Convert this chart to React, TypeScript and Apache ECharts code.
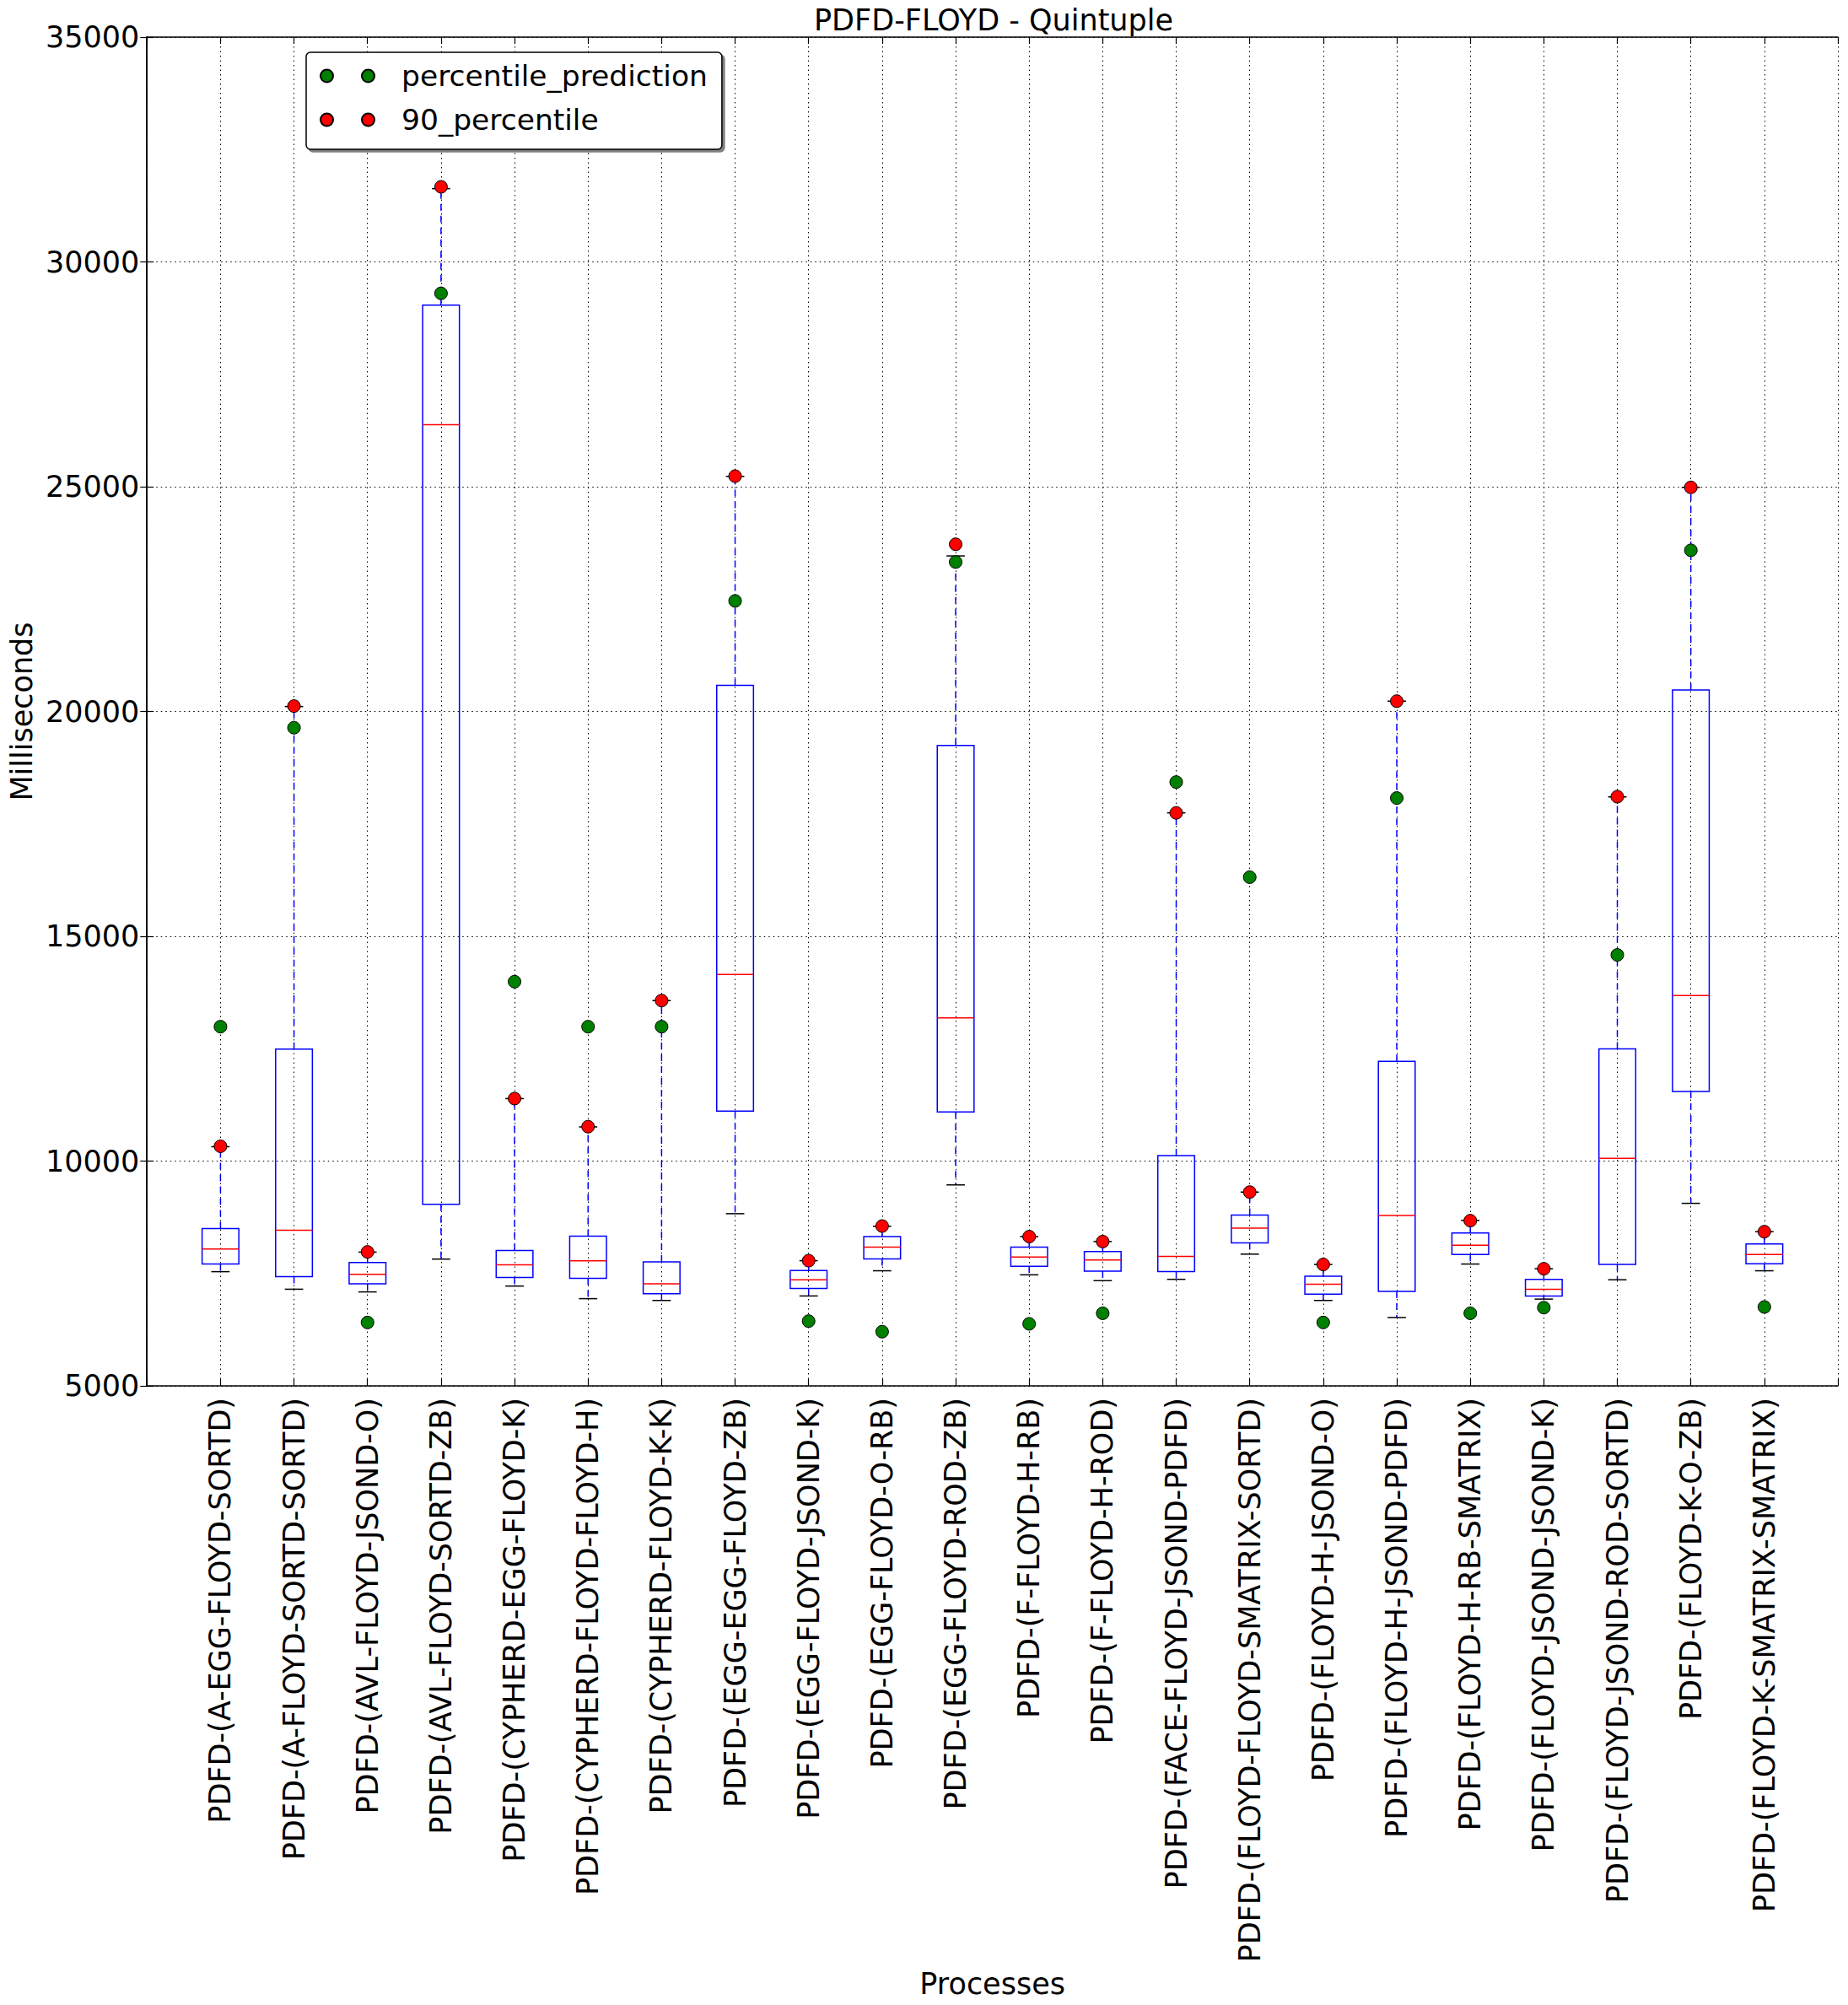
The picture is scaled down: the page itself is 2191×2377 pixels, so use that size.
import React, { useEffect, useRef } from "react";
import * as echarts from "echarts";

const categories = [
  "PDFD-(A-EGG-FLOYD-SORTD)",
  "PDFD-(A-FLOYD-SORTD-SORTD)",
  "PDFD-(AVL-FLOYD-JSOND-O)",
  "PDFD-(AVL-FLOYD-SORTD-ZB)",
  "PDFD-(CYPHERD-EGG-FLOYD-K)",
  "PDFD-(CYPHERD-FLOYD-FLOYD-H)",
  "PDFD-(CYPHERD-FLOYD-K-K)",
  "PDFD-(EGG-EGG-FLOYD-ZB)",
  "PDFD-(EGG-FLOYD-JSOND-K)",
  "PDFD-(EGG-FLOYD-O-RB)",
  "PDFD-(EGG-FLOYD-ROD-ZB)",
  "PDFD-(F-FLOYD-H-RB)",
  "PDFD-(F-FLOYD-H-ROD)",
  "PDFD-(FACE-FLOYD-JSOND-PDFD)",
  "PDFD-(FLOYD-FLOYD-SMATRIX-SORTD)",
  "PDFD-(FLOYD-H-JSOND-O)",
  "PDFD-(FLOYD-H-JSOND-PDFD)",
  "PDFD-(FLOYD-H-RB-SMATRIX)",
  "PDFD-(FLOYD-JSOND-JSOND-K)",
  "PDFD-(FLOYD-JSOND-ROD-SORTD)",
  "PDFD-(FLOYD-K-O-ZB)",
  "PDFD-(FLOYD-K-SMATRIX-SMATRIX)",
];

const whiskerLow = [7540, 7150, 7090, 7820, 7220, 6940, 6900, 8830, 7000, 7560, 9470, 7470, 7340, 7370, 7930, 6900, 6520, 7710, 6930, 7360, 9060, 7560];
const quartile1 = [7710, 7430, 7270, 9040, 7410, 7390, 7050, 11110, 7165, 7825, 11095, 7660, 7550, 7540, 8180, 7040, 7100, 7920, 7000, 7700, 11550, 7715];
const medians = [8045, 8460, 7480, 26380, 7690, 7780, 7270, 14150, 7360, 8085, 13185, 7865, 7800, 7880, 8510, 7260, 8790, 8130, 7150, 10060, 13680, 7920];
const quartile3 = [8500, 12490, 7745, 29040, 8010, 8330, 7760, 20580, 7565, 8320, 19245, 8085, 7990, 10120, 8800, 7440, 12220, 8400, 7370, 12495, 20480, 8155];
const whiskerHigh = [10320, 20110, 7975, 31630, 11390, 10760, 13570, 25230, 7785, 8550, 23460, 8320, 8210, 17745, 9310, 7700, 20230, 8680, 7605, 18100, 24985, 8430];
const percentile90 = [10330, 20120, 7980, 31670, 11390, 10765, 13570, 25235, 7785, 8555, 23720, 8320, 8210, 17745, 9310, 7700, 20230, 8675, 7605, 18105, 24985, 8430];
const percentilePrediction = [12990, 19640, 6410, 29300, 13990, 12990, 12990, 22460, 6440, 6205, 23325, 6380, 6615, 18430, 16315, 6410, 18075, 6615, 6740, 14585, 23585, 6755];

const yTicks = [5000, 10000, 15000, 20000, 25000, 30000, 35000];

const FONT = "DejaVu Sans";
const FS = 35;

const twoDots =
  "path://M0,7.5 A7.5,7.5 0 1,0 15,7.5 A7.5,7.5 0 1,0 0,7.5 Z M49,7.5 A7.5,7.5 0 1,0 64,7.5 A7.5,7.5 0 1,0 49,7.5 Z";

export default function App() {
  const ref = useRef<HTMLDivElement>(null);

  useEffect(() => {
    document.body.style.margin = "0";
    const chart = echarts.init(ref.current!, null, { renderer: "svg" });
    const positions = categories.map((_, i) => i + 1);
    const boxData = positions.map((x, i) => [x, whiskerLow[i], quartile1[i], medians[i], quartile3[i], whiskerHigh[i]]);
    const greenData = positions.map((x, i) => [x, percentilePrediction[i]]);
    const redData = positions.map((x, i) => [x, percentile90[i]]);

    const gridLine = { show: true, lineStyle: { color: "#000", width: 1, type: [1.5, 4] as any } };
    const tickInside = { show: true, inside: true, length: 8, lineStyle: { color: "#000", width: 1.2 } };
    const axisLine = { show: true, lineStyle: { color: "#000", width: 1.5 } };
    const textBase = { fontFamily: FONT, fontSize: FS, color: "#000" };

    const option: any = {
      animation: false,
      backgroundColor: "#fff",
      title: {
        text: "PDFD-FLOYD - Quintuple",
        left: 1173,
        top: 1,
        textAlign: "center",
        textStyle: { ...textBase, fontWeight: "normal" },
      },
      legend: {
        data: ["percentile_prediction", "90_percentile"],
        orient: "vertical",
        left: 363,
        top: 62,
        padding: [8, 17, 15, 16],
        itemGap: 12,
        itemWidth: 64,
        itemHeight: 15,
        icon: twoDots,
        backgroundColor: "#fff",
        borderColor: "#000",
        borderWidth: 1.5,
        borderRadius: 5,
        shadowColor: "rgba(0,0,0,0.5)",
        shadowOffsetX: 3,
        shadowOffsetY: 3,
        shadowBlur: 0,
        textStyle: { ...textBase, fontSize: 34.5, lineHeight: 40, padding: [0, 0, 0, 27] },
      },
      grid: { left: 167, top: 44, right: 12, bottom: 734 },
      xAxis: [
        {
          type: "value",
          min: 0,
          max: 23,
          interval: 1,
          axisLine,
          axisTick: tickInside,
          splitLine: gridLine,
          axisLabel: {
            ...textBase,
            rotate: 90,
            margin: 14,
            formatter: (v: number) => categories[v - 1] ?? "",
          },
          name: "Processes",
          nameLocation: "middle",
          nameGap: 689,
          nameTextStyle: textBase,
        },
        {
          type: "value",
          position: "top",
          min: 0,
          max: 23,
          interval: 1,
          axisLine,
          axisTick: tickInside,
          splitLine: { show: false },
          axisLabel: { show: false },
        },
      ],
      yAxis: [
        {
          type: "value",
          min: yTicks[0],
          max: yTicks[yTicks.length - 1],
          interval: 5000,
          axisLine,
          axisTick: tickInside,
          splitLine: gridLine,
          axisLabel: { ...textBase, margin: 9, formatter: (v: number) => String(v) },
          name: "Milliseconds",
          nameLocation: "middle",
          nameGap: 122,
          nameRotate: 90,
          nameTextStyle: textBase,
        },
        {
          type: "value",
          position: "right",
          min: yTicks[0],
          max: yTicks[yTicks.length - 1],
          interval: 5000,
          axisLine,
          axisTick: tickInside,
          splitLine: { show: false },
          axisLabel: { show: false },
        },
      ],
      series: [
        {
          type: "custom",
          name: "boxes",
          xAxisIndex: 0,
          yAxisIndex: 0,
          data: boxData,
          encode: { x: 0, y: [1, 2, 3, 4, 5] },
          z: 2,
          renderItem: (_params: any, api: any) => {
            const x = api.value(0);
            const lo = api.coord([x, api.value(1)]);
            const b1 = api.coord([x, api.value(2)]);
            const md = api.coord([x, api.value(3)]);
            const b3 = api.coord([x, api.value(4)]);
            const hi = api.coord([x, api.value(5)]);
            const w = api.size([0.5, 0])[0];
            const cx = lo[0];
            const capHalf = w / 4;
            const dash = { stroke: "#0000ff", lineWidth: 1.5, lineDash: [8, 6], fill: null };
            const solidBlack = { stroke: "#000", lineWidth: 1.5, fill: null };
            return {
              type: "group",
              children: [
                { type: "line", shape: { x1: cx, y1: b1[1], x2: cx, y2: lo[1] }, style: dash },
                { type: "line", shape: { x1: cx, y1: b3[1], x2: cx, y2: hi[1] }, style: dash },
                { type: "line", shape: { x1: cx - capHalf, y1: lo[1], x2: cx + capHalf, y2: lo[1] }, style: solidBlack },
                { type: "line", shape: { x1: cx - capHalf, y1: hi[1], x2: cx + capHalf, y2: hi[1] }, style: solidBlack },
                {
                  type: "rect",
                  shape: { x: cx - w / 2, y: b3[1], width: w, height: b1[1] - b3[1] },
                  style: { fill: "none", stroke: "#0000ff", lineWidth: 1.5 },
                },
                {
                  type: "line",
                  shape: { x1: cx - w / 2, y1: md[1], x2: cx + w / 2, y2: md[1] },
                  style: { stroke: "#ff0000", lineWidth: 1.5, fill: null },
                },
              ],
            };
          },
        },
        {
          type: "scatter",
          name: "percentile_prediction",
          data: greenData,
          symbol: "circle",
          symbolSize: 15,
          z: 3,
          itemStyle: { color: "#008000", borderColor: "#000", borderWidth: 1, opacity: 1 },
        },
        {
          type: "scatter",
          name: "90_percentile",
          data: redData,
          symbol: "circle",
          symbolSize: 15,
          z: 4,
          itemStyle: { color: "#ff0000", borderColor: "#000", borderWidth: 1, opacity: 1 },
        },
      ],
    };

    chart.setOption(option);
    return () => chart.dispose();
  }, []);

  return <div ref={ref} style={{ position: "absolute", left: 0, top: 0, width: 2191, height: 2377 }} />;
}
